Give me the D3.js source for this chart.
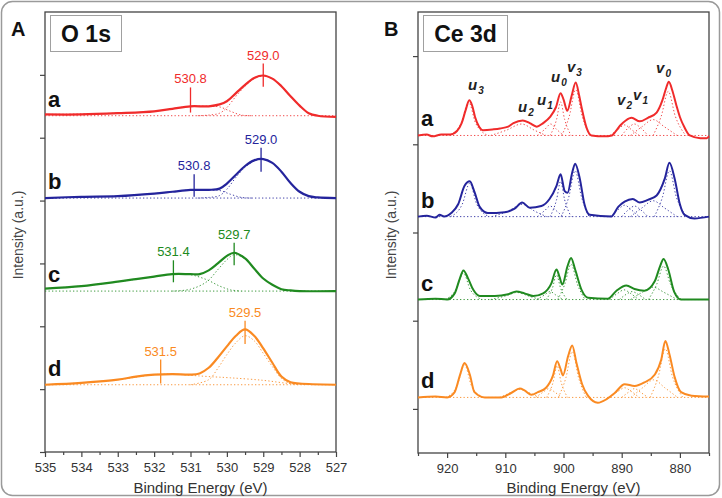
<!DOCTYPE html>
<html>
<head>
<meta charset="utf-8">
<script src="https://cdn.jsdelivr.net/npm/d3@7"></script>
<style>
  body { margin: 0; background: #fff; }
  svg { font-family: "Liberation Sans", Arial, sans-serif; }
</style>
</head>
<body>
<svg id="chart" width="722" height="498"></svg>
<script>
// XPS spectra, O 1s (panel A) and Ce 3d (panel B), samples a-d

const samples = ['a', 'b', 'c', 'd'];
const colors = ['#f02b2b', '#24249c', '#208a20', '#fa8a22'];

// ---- O 1s : [binding energy, intensity above own baseline]
const o1sA = [[535,2],[534,2],[533,4],[532,7],[531.5,11],[531,15],[530.5,15],[530.2,18],[530,23],[529.75,36],[529.5,49],[529.25,60],[529,64],[528.75,59],[528.5,47],[528.25,31],[528,16],[527.75,4],[527.5,0],[527,-2]];
const o1sB = [[535,0],[534,2],[533,3],[532,7],[531.5,10],[531,13],[530.5,13],[530.2,15],[530,23],[529.75,37],[529.5,51],[529.25,60],[529,62],[528.75,56],[528.5,42],[528.25,24],[528,10],[527.75,3],[527.5,1],[527,0]];
const o1sC = [[535,4],[534,8],[533,15],[532.5,19],[532,23],[531.5,27],[531,27],[530.75,27],[530.5,33],[530.25,44],[530,56],[529.8,61],[529.5,52],[529.25,36],[529,20],[528.75,10],[528.5,3],[528.25,1],[528,0],[527,0]];
const o1sD = [[535,0],[534,3],[533,8],[532.5,13],[532,16],[531.5,17],[531,16],[530.75,18],[530.5,27],[530.25,43],[530,61],[529.75,78],[529.5,88],[529.25,78],[529,58],[528.75,35],[528.5,13],[528.25,4],[528,2],[527,0]];

// fitted components (dotted)
const o1sFitA = [
  [[535,2],[533,4],[532,7],[531,15],[530.5,15],[530.2,14],[529.9,7],[529.6,1],[529.3,0]],
  [[530.8,0],[530.5,1],[530.2,4],[530,13],[529.75,31],[529.5,47],[529.25,59],[529,63],[528.75,59],[528.5,47],[528.25,31],[528,16],[527.75,4],[527.5,0]]
];
const o1sFitB = [
  [[535,0],[533,3],[532,7],[531,13],[530.5,13],[530.2,12],[529.9,6],[529.6,1],[529.3,0]],
  [[530.8,0],[530.5,1],[530.2,4],[530,14],[529.75,33],[529.5,49],[529.25,59],[529,62],[528.75,56],[528.5,42],[528.25,24],[528,10],[527.75,3],[527.5,0]]
];
const o1sFitC = [
  [[535,4],[534,8],[533,15],[532,23],[531.5,27],[531,26],[530.55,18],[530.2,8],[529.9,2],[529.6,0]],
  [[531.5,0],[531,3],[530.55,15],[530.25,34],[530,50],[529.8,58],[529.5,51],[529.25,36],[529,20],[528.75,10],[528.5,3],[528.2,0]]
];
const o1sFitD = [
  [[535,0],[534,3],[533,8],[532,16],[531.5,17],[531,15],[530.5,13],[529.9,11],[529,7],[528.3,2],[527.8,0]],
  [[531,0],[530.5,8],[530.25,26],[530,48],[529.75,67],[529.5,78],[529.25,70],[529,50],[528.75,29],[528.5,10],[528.25,2],[528,0]]
];

const o1sOffsets = [535, 404, 256, 107];
// peak markers: [energy, low, high, label]
const o1sMarks = [
  [[531.0, 5, 45, '530.8'], [529.0, 46, 83, '529.0']],
  [[530.9, 2, 38, '530.8'], [529.06, 42, 80, '529.0']],
  [[531.47, 14, 49, '531.4'], [529.8, 41, 77, '529.7']],
  [[531.82, 2, 40, '531.5'], [529.5, 65, 102, '529.5']]
];
const o1sXTicks = [535, 534, 533, 532, 531, 530, 529, 528, 527];
const o1sXMinor = [534.5, 533.5, 532.5, 531.5, 530.5, 529.5, 528.5, 527.5];
const o1sYTicks = [0, 100, 200, 300, 400, 500, 600];

// ---- Ce 3d : [binding energy, intensity above own baseline]
const ce3dA = [[925,0],[923.5,1],[922.5,-1],[921,1],[919.5,1],[918.3,5],[917.5,14],[916.8,29],[916.2,40],[915.7,34],[915.2,21],[914.5,10],[913.8,6],[912,7],[910.9,8],[909.5,10],[908.6,14],[907,17],[905.8,14],[904.6,10],[903.5,14],[902.3,21],[901.3,32],[900.5,48],[900,41],[899.35,28],[898.6,45],[897.9,60],[897.3,45],[896.9,32],[896,8],[895.2,0],[893,-1],[891.7,0],[891,5],[890.3,11],[889.3,17],[888.3,20],[886.9,16],[885.5,20],[884,26],[883,40],[882.4,53],[881.9,61],[881.3,51],[880.6,34],[880,21],[879.2,9],[878.3,0],[876.5,-3],[875.4,-3],[875,-1]];
const ce3dB = [[925,0],[923.5,1],[922,-1],[921.3,2],[920.5,0],[919.3,4],[918.1,14],[917,35],[916.1,40],[915.3,28],[914.4,11],[913,4],[910.1,5],[908.4,9],[907.1,16],[905.8,10],[903.8,12],[902.4,20],[901.2,35],[900.5,48],[899.8,29],[899.3,27],[898.5,50],[898,60],[897.2,43],[896.4,14],[895.5,2],[891.8,0],[890.6,11],[889.5,17],[888.1,20],[886.9,16],[885.5,19],[884,24],[882.6,43],[881.8,61],[880.9,43],[880,14],[879.2,2],[877.5,-2],[875,0]];
const ce3dC = [[925,0],[922,1],[920,0],[918.7,7],[917.8,24],[917.2,33],[916.4,24],[915.5,11],[914.4,4],[911.8,4],[909.5,6],[908.1,9],[906.7,7],[905.2,4],[903.5,7],[902.1,18],[901.2,34],[900.7,26],[900.2,17],[899.3,38],[898.7,47],[898,34],[896.9,11],[895.8,2],[892.4,1],[890.9,10],[889.2,16],[887.8,12],[886.1,10],[884.3,21],[883.4,38],[882.8,46],[882,34],[881,9],[879.8,0],[875,0]];
const ce3dD = [[925,0],[922,1],[920,0],[918.7,6],[917.8,25],[917,39],[916.1,26],[915.3,6],[913.5,0],[910.7,0],[909,5],[907.5,10],[906.7,8],[905.5,3],[904.4,6],[903,11],[901.8,25],[901.1,41],[900.5,32],[900.1,25],[899.2,47],[898.5,59],[897.8,40],[896.8,15],[895.8,2],[894.1,-6],[892.6,-2],[891.2,5],[889.5,15],[887.8,13],[886.1,17],[884.3,26],[883.2,43],[882.5,64],[881.8,49],[880.9,23],[879.8,6],[878,2],[875,1]];

// fitted components: u3, u2, u1, u0, v3, v2, v1, v', v0
const ce3dFitA = [
  [[919.5,0],[917.6,14],[916.3,38],[915.1,14],[913,0]],
  [[912.5,0],[909.8,6],[907.2,13],[905,6],[903,0]],
  [[904.5,0],[903.2,7],[902.2,13],[901.2,7],[900,0]],
  [[902.3,0],[901.2,18],[900.5,38],[899.8,18],[898.7,0]],
  [[900.3,0],[899,22],[897.9,52],[896.8,22],[895.5,0]],
  [[892,0],[890.6,7],[889.5,12],[888.4,7],[887,0]],
  [[890,0],[888.8,9],[887.8,13],[886.8,9],[885.5,0]],
  [[888.5,0],[886.5,10],[884.6,18],[882.7,10],[880.5,0]],
  [[884.6,0],[883.2,22],[882,50],[880.8,22],[879,0]]
];
const ce3dFitB = [
  [[919.4,0],[917.4,14],[916.1,38],[914.9,14],[912.8,0]],
  [[912.3,0],[909.6,6],[907.1,14],[904.9,6],[902.9,0]],
  [[904.5,0],[903.2,7],[902.3,12],[901.3,7],[900.1,0]],
  [[902.3,0],[901.2,19],[900.5,40],[899.8,19],[898.7,0]],
  [[900.4,0],[899.1,22],[898,52],[896.9,22],[895.6,0]],
  [[892,0],[890.6,8],[889.5,13],[888.4,8],[887,0]],
  [[890,0],[888.8,8],[887.8,12],[886.8,8],[885.5,0]],
  [[888.5,0],[886.5,10],[884.6,18],[882.7,10],[880.5,0]],
  [[884.4,0],[883,22],[881.8,52],[880.6,22],[878.8,0]]
];
const ce3dFitC = [
  [[920.3,0],[918.5,11],[917.2,30],[916,11],[914,0]],
  [[912.5,0],[910,4],[908,8],[906,4],[904,0]],
  [[904.6,0],[903.3,5],[902.3,9],[901.3,5],[900.1,0]],
  [[903,0],[901.9,13],[901.2,28],[900.5,13],[899.4,0]],
  [[901,0],[899.8,17],[898.7,40],[897.6,17],[896.3,0]],
  [[892.1,0],[890.7,7],[889.6,11],[888.5,7],[887.1,0]],
  [[890.4,0],[889.2,6],[888.2,9],[887.2,6],[885.9,0]],
  [[888.5,0],[886.5,8],[884.6,14],[882.7,8],[880.5,0]],
  [[885.4,0],[884,17],[882.8,38],[881.6,17],[879.8,0]]
];
const ce3dFitD = [
  [[920.2,0],[918.3,13],[917,37],[915.8,13],[913.7,0]],
  [[911,0],[909.2,5],[907.5,9],[905.8,5],[904.2,0]],
  [[904.8,0],[903.5,6],[902.5,10],[901.5,6],[900.3,0]],
  [[902.9,0],[901.8,17],[901.1,36],[900.4,17],[899.3,0]],
  [[900.9,0],[899.6,22],[898.5,52],[897.4,22],[896.1,0]],
  [[892,0],[890.6,7],[889.5,11],[888.4,7],[887,0]],
  [[890,0],[888.8,6],[887.8,10],[886.8,6],[885.5,0]],
  [[888.4,0],[886.4,11],[884.5,20],[882.6,11],[880.4,0]],
  [[885.1,0],[883.7,24],[882.5,55],[881.3,24],[879.5,0]]
];

const ce3dOffsets = [310, 218, 124, 13];
// peak names: [energy, intensity, letter, subscript]
const ce3dLabels = [
  [916.4, 361, 'u', '3'], [907.8, 337, 'u', '2'], [904.55, 345, 'u', '1'], [902.15, 371, 'u', '0'],
  [899.4, 382, 'v', '3'], [890.8, 345, 'v', '2'], [888.05, 350, 'v', '1'], [884.1, 381, 'v', '0']
];
const ce3dXTicks = [920, 910, 900, 890, 880];
const ce3dXMinor = [925, 915, 905, 895, 885, 875];
const ce3dYTicks = [0, 100, 200, 300, 400];

const o1sMain = [o1sA, o1sB, o1sC, o1sD];
const o1sFits = [o1sFitA, o1sFitB, o1sFitC, o1sFitD];
const ce3dMain = [ce3dA, ce3dB, ce3dC, ce3dD];
const ce3dFits = [ce3dFitA, ce3dFitB, ce3dFitC, ce3dFitD];

const svg = d3.select('#chart');

// outer rounded frame
svg.append('rect')
  .attr('x', 1.5).attr('y', 1.5).attr('width', 718).attr('height', 494)
  .attr('rx', 11).attr('fill', 'none').attr('stroke', '#9a9a9a').attr('stroke-width', 1.5);

function drawPanel(opt) {
  const x = opt.x, y = opt.y;
  const [x0, x1] = x.range();
  const [yb, yt] = y.range();
  const g = svg.append('g');

  // axes
  const bottom = g.append('g').attr('transform', `translate(0,${yb})`)
    .call(d3.axisBottom(x).tickValues(opt.xTicks).tickSize(5).tickPadding(6).tickFormat(d3.format('d')));
  g.append('g').attr('transform', `translate(0,${yb})`)
    .call(d3.axisBottom(x).tickValues(opt.xMinor).tickSize(3).tickFormat(''));
  g.append('g').attr('transform', `translate(${x0},0)`)
    .call(d3.axisLeft(y).tickValues(opt.yTicks).tickSize(5).tickFormat(''));
  g.selectAll('.domain').remove();
  g.selectAll('.tick line').attr('stroke', '#444').attr('stroke-width', 1.2);
  bottom.selectAll('text').attr('fill', '#333').attr('font-size', 13);

  // frame
  g.append('rect')
    .attr('x', x0).attr('y', yt).attr('width', x1 - x0).attr('height', yb - yt)
    .attr('fill', 'none').attr('stroke', '#444').attr('stroke-width', 1.3);

  // axis titles
  g.append('text')
    .attr('x', (x0 + x1) / 2 + 10).attr('y', 493)
    .attr('text-anchor', 'middle').attr('font-size', 15).attr('fill', '#333')
    .text('Binding Energy (eV)');
  g.append('text')
    .attr('transform', `translate(${x0 - 22},235) rotate(-90)`)
    .attr('text-anchor', 'middle').attr('font-size', 14).attr('fill', '#444')
    .text('Intensity (a.u.)');

  // panel letter and title box
  g.append('text')
    .attr('x', x0 - 34).attr('y', 36)
    .attr('font-size', 20).attr('font-weight', 'bold').attr('fill', '#111')
    .text(opt.letter);
  g.append('rect')
    .attr('x', x0 + 5.5).attr('y', 15.5).attr('width', opt.boxW).attr('height', 36)
    .attr('fill', '#fff').attr('stroke', '#a0a0a0').attr('stroke-width', 1);
  g.append('text')
    .attr('x', x0 + 5.5 + opt.boxW / 2).attr('y', 42)
    .attr('text-anchor', 'middle').attr('font-size', 23).attr('font-weight', 'bold').attr('fill', '#111')
    .text(opt.title);

  // spectra
  samples.forEach((s, i) => {
    const off = opt.offsets[i];
    const line = d3.line()
      .x(d => x(d[0]))
      .y(d => y(d[1] + off))
      .curve(opt.curve);

    const fits = g.append('g')
      .attr('fill', 'none').attr('stroke', colors[i])
      .attr('stroke-width', 1).attr('stroke-dasharray', '1.3,2.2').attr('opacity', 0.85);
    fits.append('path').attr('d', line([[x.domain()[0], 0], [x.domain()[1], 0]]));
    opt.fits[i].forEach(c => fits.append('path').attr('d', line(c)));

    g.append('path')
      .attr('d', line(opt.main[i]))
      .attr('fill', 'none').attr('stroke', colors[i])
      .attr('stroke-width', opt.lw).attr('stroke-linejoin', 'round');

    g.append('text')
      .attr('x', x0 + 3).attr('y', y(off) - 9)
      .attr('font-size', 22).attr('font-weight', 'bold').attr('fill', '#111')
      .text(s);

    if (opt.marks) {
      opt.marks[i].forEach(m => {
        g.append('line')
          .attr('x1', x(m[0])).attr('x2', x(m[0]))
          .attr('y1', y(m[1] + off)).attr('y2', y(m[2] + off))
          .attr('stroke', colors[i]).attr('stroke-width', 1.3);
        g.append('text')
          .attr('x', x(m[0])).attr('y', y(m[2] + off) - 4)
          .attr('text-anchor', 'middle').attr('font-size', 13).attr('fill', colors[i])
          .text(m[3]);
      });
    }
  });

  return g;
}

// Panel A: O 1s
const xA = d3.scaleLinear().domain([535, 527]).range([45, 336]);
const yA = d3.scaleLinear().domain([0, 700]).range([452, 12]);
drawPanel({
  x: xA, y: yA, letter: 'A', title: 'O 1s', boxW: 71,
  xTicks: o1sXTicks, xMinor: o1sXMinor, yTicks: o1sYTicks,
  offsets: o1sOffsets, main: o1sMain, fits: o1sFits, marks: o1sMarks,
  lw: 2.2, curve: d3.curveCatmullRom.alpha(0.5)
});

// Panel B: Ce 3d
const xB = d3.scaleLinear().domain([925, 875]).range([418, 709]);
const yB = d3.scaleLinear().domain([-50, 450]).range([453, 12]);
const gB = drawPanel({
  x: xB, y: yB, letter: 'B', title: 'Ce 3d', boxW: 84,
  xTicks: ce3dXTicks, xMinor: ce3dXMinor, yTicks: ce3dYTicks,
  offsets: ce3dOffsets, main: ce3dMain, fits: ce3dFits, marks: null,
  lw: 2, curve: d3.curveMonotoneX
});

// peak names on the top spectrum
ce3dLabels.forEach(l => {
  const t = gB.append('text')
    .attr('x', xB(l[0])).attr('y', yB(l[1]))
    .attr('font-size', 15).attr('font-weight', 'bold').attr('font-style', 'italic').attr('fill', '#222');
  t.append('tspan').text(l[2]);
  t.append('tspan').attr('font-size', 10).attr('dx', 1).attr('dy', 4).text(l[3]);
});
</script>
</body>
</html>
